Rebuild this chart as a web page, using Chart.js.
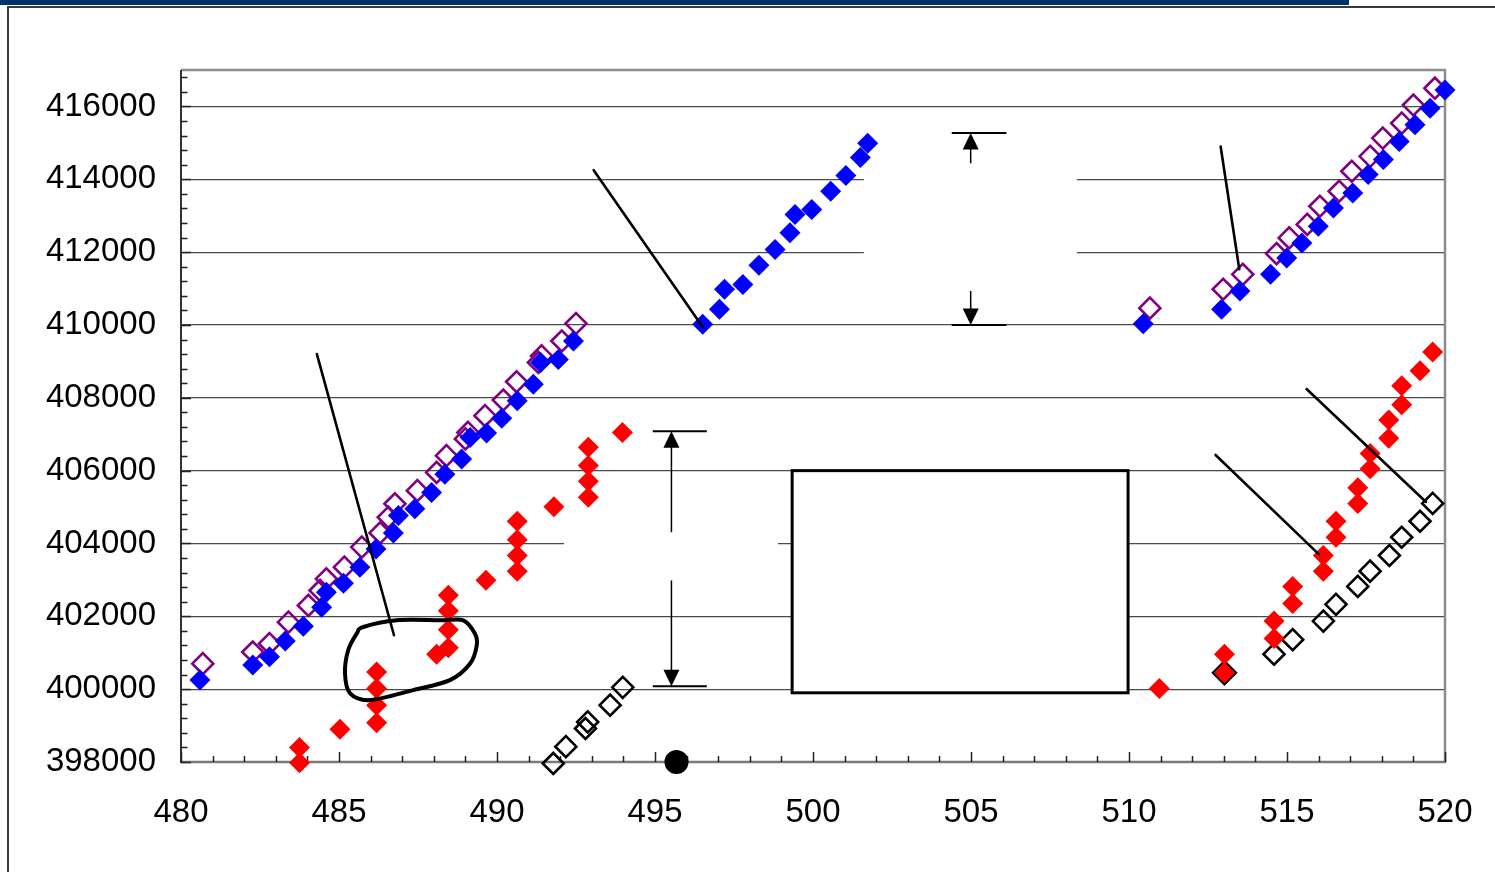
<!DOCTYPE html>
<html>
<head>
<meta charset="utf-8">
<script src="https://cdn.jsdelivr.net/npm/chart.js@4.4.1/dist/chart.umd.min.js"></script>
<style>
html,body{margin:0;padding:0;background:#fff;}
#wrap{position:relative;width:1495px;height:872px;overflow:hidden;background:#fff;}
#bar{position:absolute;left:0;top:0;width:1349px;height:5px;background:#003366;}
#ftop{position:absolute;left:7px;top:6px;width:1488px;height:2px;background:#3a3a3a;}
#fleft{position:absolute;left:7px;top:6px;width:2px;height:866px;background:#3a3a3a;}
canvas{position:absolute;left:0;top:0;}
</style>
</head>
<body>
<div id="wrap">
<canvas id="c" width="1495" height="872"></canvas>
<div id="bar"></div><div id="ftop"></div><div id="fleft"></div>
</div>
<script>
// ---------------- data (x, y) ----------------
const blueFilled = [
  [480.6,400250],[482.27,400660],[482.8,400890],[483.3,401320],[483.87,401730],[484.45,402250],
  [484.6,402660],[485.14,402910],[485.66,403350],[486.17,403850],[486.72,404290],[486.88,404770],
  [487.4,404950],[487.93,405400],[488.35,405900],[488.88,406320],[489.15,406910],[489.67,407030],
  [490.15,407440],[490.64,407920],[491.15,408370],[491.38,408970],[491.94,409050],[492.42,409560],
  [496.51,410020],[497.04,410430],[497.2,410980],[497.78,411110],[498.29,411640],[498.8,412070],
  [499.27,412530],[499.43,413030],[499.96,413170],[500.56,413670],[501.04,414100],[501.5,414600],
  [501.73,414990],
  [510.45,410030],[512.93,410430],[513.51,410930],[514.48,411390],[514.99,411840],[515.47,412250],
  [515.99,412710],[516.47,413210],[517.08,413620],[517.57,414130],[518.05,414540],[518.55,415040],
  [519.05,415500],[519.53,415950],[520.0,416450]
];
const purpleOpen = [
  [480.69,400700],[482.27,401020],[482.8,401250],[483.4,401840],[484.03,402300],[484.4,402710],
  [484.6,403030],[485.17,403350],[485.72,403900],[486.3,404290],[486.56,404720],[486.77,405090],
  [487.48,405450],[488.09,405950],[488.4,406410],[489.0,406870],[489.08,407050],[489.62,407510],
  [490.2,407940],[490.62,408440],[491.31,408970],[491.41,409150],[492.05,409560],[492.5,410040],
  [510.66,410460],[512.98,410980],[513.6,411390],[514.67,411960],[515.07,412390],[515.64,412760],
  [516.04,413260],[516.65,413670],[517.05,414220],[517.63,414630],[518.03,415130],[518.63,415540],
  [519.0,416040],[519.68,416500]
];
const redFilled = [
  [483.75,397980],[483.75,398400],[485.03,398900],[486.19,399080],[486.19,399560],[486.19,400020],
  [486.19,400470],[488.09,400960],[488.46,401140],[488.46,401630],[488.46,402150],[488.46,402575],
  [489.65,402990],[490.64,403240],[490.64,403670],[490.64,404100],[490.64,404610],[491.8,405010],
  [492.89,405270],[492.89,405710],[492.89,406140],[492.89,406640],[493.97,407050],
  [510.96,400020],[513.02,400960],[513.02,400450],[514.59,401390],[514.59,401870],[515.18,402350],
  [515.18,402820],[516.15,403240],[516.15,403670],[516.55,404170],[516.55,404610],[517.24,405100],
  [517.24,405530],[517.63,406050],[517.63,406470],[518.22,406890],[518.22,407390],[518.63,407810],
  [518.63,408330],[519.21,408740],[519.61,409260]
];
const blackOpen = [
  [491.78,397960],[492.18,398420],[492.8,398920],[492.87,399100],[493.58,399560],[493.98,400050],
  [513.02,400450],[514.59,400960],[515.18,401360],[516.15,401870],[516.55,402330],[517.24,402820],
  [517.63,403240],[518.24,403670],[518.63,404170],[519.21,404610],[519.61,405100]
];
const blackDot = [[495.68,398000]];

// axis ranges and tick labels
const xMin = 480, xMax = 520;
const yMin = 398000, yMax = 417000;
const xTickValues = [480,485,490,495,500,505,510,515,520];
const xTickLabels = ['480','485','490','495','500','505','510','515','520'];
const yTickValues = [398000,400000,402000,404000,406000,408000,410000,412000,414000,416000];
const yTickLabels = ['398000','400000','402000','404000','406000','408000','410000','412000','414000','416000'];

// annotations (in data units)
const calloutLines = [
  [[484.3,409200],[486.74,401480]],
  [[493.06,414250],[496.52,409930]],
  [[512.9,414900],[513.49,411530]],
  [[512.74,406430],[516.01,403700]],
  [[515.62,408240],[519.4,405140]]
];
const blobOutline = [
  [485.56,401526],[485.77,401707],[486.83,401890],[488.2,401890],[488.93,401890],[489.3,401526],
  [489.36,401205],[489.15,400704],[488.51,400247],[487.35,399973],[485.98,399699],[485.35,399882],
  [485.19,400430],[485.29,401068]
];
// dimension arrows: x of shaft, bar left, bar right, low y, high y
const dimArrows = [
  [495.52,494.93,496.64,400080,407080],
  [504.99,504.39,506.12,410000,415270]
];
// blank (white) label areas: x1, x2, y1, y2
const blankAreas = [
  [501.61,508.35,410932,414438],
  [492.12,498.89,402986,404310]
];
const frameBox = [499.34,509.97,399900,406000];

// ---------------- drawing ----------------
const toPts = a => a.map(p => ({x:p[0], y:p[1]}));

const overlay = {
  id:'overlay',
  beforeDatasetsDraw(chart){
    const c = chart.ctx, a = chart.chartArea;
    const X = chart.scales.x, Y = chart.scales.y;
    const px = v => X.getPixelForValue(v), py = v => Y.getPixelForValue(v);
    c.save();
    // frame: top & right
    c.strokeStyle = '#8c8c8c'; c.lineWidth = 2.5;
    c.beginPath(); c.moveTo(a.left, a.top); c.lineTo(a.right, a.top); c.lineTo(a.right, a.bottom); c.stroke();
    // bottom axis
    c.strokeStyle = '#7a7a7a'; c.lineWidth = 2.5;
    c.beginPath(); c.moveTo(a.left, a.bottom); c.lineTo(a.right+1, a.bottom); c.stroke();
    // left axis
    c.strokeStyle = '#333'; c.lineWidth = 2;
    c.beginPath(); c.moveTo(a.left, a.top); c.lineTo(a.left, a.bottom+1); c.stroke();
    // inward ticks
    c.strokeStyle = '#222'; c.lineWidth = 1.5;
    c.beginPath();
    for (let v = yMin; v < yMax; v += 400) {
      const y = Math.round(py(v)) + 0.5;
      const len = (v % 2000 === 0) ? 10 : 6.5;
      c.moveTo(a.left, y); c.lineTo(a.left + len, y);
    }
    for (let v = xMin; v <= xMax; v += 1) {
      const x = Math.round(px(v)) + 0.5;
      const len = (v % 5 === 0) ? 10 : 6;
      c.moveTo(x, a.bottom); c.lineTo(x, a.bottom - len);
    }
    c.stroke();
    // dimension arrows
    dimArrows.forEach(d => {
      const x = px(d[0]), xl = px(d[1]), xr = px(d[2]), yl = py(d[3]), yh = py(d[4]);
      c.strokeStyle = '#000'; c.lineWidth = 2;
      c.beginPath(); c.moveTo(xl, yl); c.lineTo(xr, yl); c.moveTo(xl, yh); c.lineTo(xr, yh); c.stroke();
      c.lineWidth = 1.5;
      c.beginPath(); c.moveTo(x, yh + 14); c.lineTo(x, yl - 14); c.stroke();
      c.fillStyle = '#000';
      c.beginPath(); c.moveTo(x, yh); c.lineTo(x - 8, yh + 16.5); c.lineTo(x + 8, yh + 16.5); c.closePath(); c.fill();
      c.beginPath(); c.moveTo(x, yl); c.lineTo(x - 8, yl - 16.5); c.lineTo(x + 8, yl - 16.5); c.closePath(); c.fill();
    });
    // blank label areas
    c.fillStyle = '#fff';
    blankAreas.forEach(b => {
      const x1 = px(b[0]), x2 = px(b[1]), y1 = py(b[3]), y2 = py(b[2]);
      c.fillRect(x1, y1, x2 - x1, y2 - y1);
    });
    // framed box
    {
      const x1 = px(frameBox[0]), x2 = px(frameBox[1]), y1 = py(frameBox[3]), y2 = py(frameBox[2]);
      c.fillStyle = '#fff'; c.fillRect(x1, y1, x2 - x1, y2 - y1);
      c.strokeStyle = '#000'; c.lineWidth = 3; c.strokeRect(x1, y1, x2 - x1, y2 - y1);
    }
    c.restore();
  },
  afterDatasetsDraw(chart){
    const c = chart.ctx;
    const X = chart.scales.x, Y = chart.scales.y;
    const px = v => X.getPixelForValue(v), py = v => Y.getPixelForValue(v);
    c.save();
    c.strokeStyle = '#000'; c.lineWidth = 2.6; c.lineCap = 'round';
    calloutLines.forEach(l => {
      c.beginPath(); c.moveTo(px(l[0][0]), py(l[0][1])); c.lineTo(px(l[1][0]), py(l[1][1])); c.stroke();
    });
    // closed smooth outline
    const P = blobOutline.map(p => ({x:px(p[0]), y:py(p[1])}));
    const n = P.length;
    c.lineWidth = 4; c.lineJoin = 'round';
    c.beginPath(); c.moveTo(P[0].x, P[0].y);
    for (let i = 0; i < n; i++) {
      const p0 = P[(i-1+n)%n], p1 = P[i], p2 = P[(i+1)%n], p3 = P[(i+2)%n];
      c.bezierCurveTo(p1.x + (p2.x-p0.x)/6, p1.y + (p2.y-p0.y)/6,
                      p2.x - (p3.x-p1.x)/6, p2.y - (p3.y-p1.y)/6, p2.x, p2.y);
    }
    c.closePath(); c.stroke();
    c.restore();
  }
};

const blackBorderWidths = blackOpen.map(p => (p[0] === 513.02 ? 3.8 : 2.6));
const fontFamily = '"Liberation Sans", Arial, sans-serif';

new Chart(document.getElementById('c'), {
  type: 'scatter',
  data: {
    datasets: [
      {data: toPts(blueFilled), pointStyle:'rectRot', pointRadius:10.5, pointBackgroundColor:'#0000ff', pointBorderColor:'#0000ff', pointBorderWidth:0, clip:false},
      {data: toPts(purpleOpen), pointStyle:'rectRot', pointRadius:10.5, pointBackgroundColor:'rgba(0,0,0,0)', pointBorderColor:'#800080', pointBorderWidth:2.6, clip:false},
      {data: toPts(redFilled), pointStyle:'rectRot', pointRadius:10.5, pointBackgroundColor:'#ff0000', pointBorderColor:'#ff0000', pointBorderWidth:0, clip:false},
      {data: toPts(blackOpen), pointStyle:'rectRot', pointRadius:10.5, pointBackgroundColor:'rgba(0,0,0,0)', pointBorderColor:'#000', pointBorderWidth:blackBorderWidths, clip:false},
      {data: toPts(blackDot), pointStyle:'circle', pointRadius:12, pointBackgroundColor:'#000', pointBorderColor:'#000', pointBorderWidth:0, clip:false}
    ]
  },
  options: {
    responsive:false, animation:false, devicePixelRatio:1, events:[],
    layout:{padding:{left:0, top:70, right:50, bottom:0}},
    plugins:{legend:{display:false}, tooltip:{enabled:false}},
    scales:{
      x:{
        type:'linear', min:xMin, max:xMax,
        afterBuildTicks(s){ s.ticks = xTickValues.map(v => ({value:v})); },
        ticks:{autoSkip:false, maxRotation:0, minRotation:0, padding:0, color:'#000',
          font:{family:fontFamily, size:33, lineHeight:'102px'},
          callback:(v) => { const i = xTickValues.indexOf(v); return i >= 0 ? xTickLabels[i] : ''; }},
        grid:{display:false, drawTicks:false},
        border:{display:false},
        afterFit(s){ s.height = 110; }
      },
      y:{
        type:'linear', min:yMin, max:yMax,
        afterBuildTicks(s){ s.ticks = yTickValues.map(v => ({value:v})); },
        ticks:{autoSkip:false, padding:25, color:'#000', font:{family:fontFamily, size:33},
          callback:(v) => { const i = yTickValues.indexOf(v); return i >= 0 ? yTickLabels[i] : ''; }},
        grid:{color:'#4a4a4a', lineWidth:1.2, drawTicks:false},
        border:{display:false},
        afterFit(s){ s.width = 181; }
      }
    }
  },
  plugins:[overlay]
});
</script>
</body>
</html>
